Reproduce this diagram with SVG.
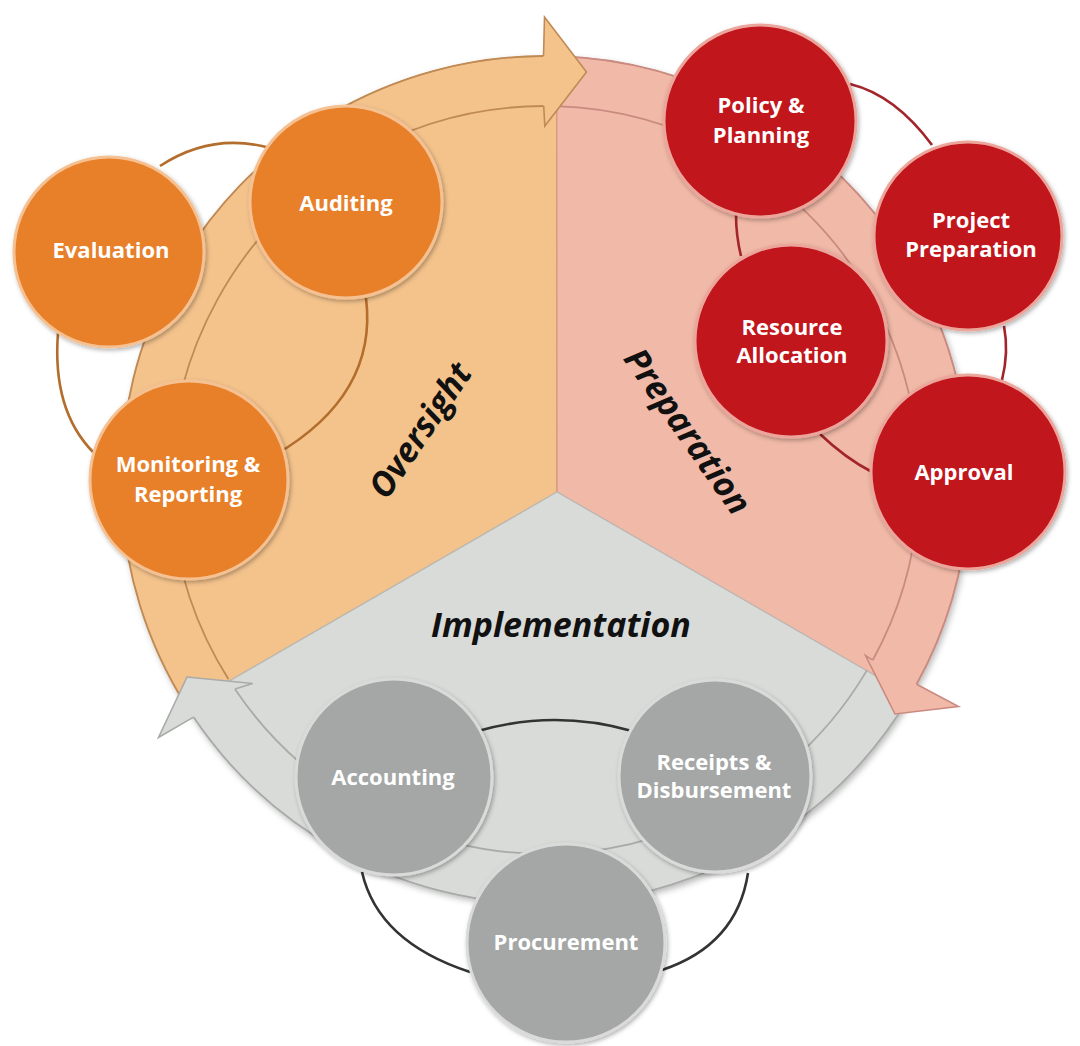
<svg xmlns="http://www.w3.org/2000/svg" width="1080" height="1046" viewBox="0 0 1080 1046">
<defs>
<filter id="sh" x="-10%" y="-10%" width="120%" height="120%">
<feDropShadow dx="2" dy="3" stdDeviation="3" flood-color="#000" flood-opacity="0.28"/>
</filter>
<filter id="nsh" x="-15%" y="-15%" width="130%" height="130%">
<feDropShadow dx="1.5" dy="2" stdDeviation="2" flood-color="#000" flood-opacity="0.3"/>
</filter>
<style>
.wo{fill:#f4c38c;stroke:#d9a066;stroke-width:1.2}
.wp{fill:#f1b9a7;stroke:#d79484;stroke-width:1.2}
.wi{fill:#d9dbd8;stroke:#b9bbb8;stroke-width:1.2}
.ao{fill:#f4c38c;stroke:#c08a55;stroke-width:1.6}
.ap{fill:#f1b9a7;stroke:#c98a80;stroke-width:1.6}
.ai{fill:#d9dbd8;stroke:#a9aba8;stroke-width:1.6}
.line-o{fill:none;stroke:#c08a55;stroke-width:1.8}
.line-p{fill:none;stroke:#c98a80;stroke-width:1.8}
.line-i{fill:none;stroke:#a9aba8;stroke-width:1.8}
.ro{fill:none;stroke:#b36d2c;stroke-width:2.6}
.rr{fill:none;stroke:#a2252b;stroke-width:2.6}
.rg{fill:none;stroke:#333333;stroke-width:2.6}
.no{fill:#e8802a;stroke:#f5c192;stroke-width:3;filter:url(#nsh)}
.nr{fill:#c1141f;stroke:#eba59b;stroke-width:3;filter:url(#nsh)}
.ng{fill:#a5a7a6;stroke:#dadada;stroke-width:3;filter:url(#nsh)}
.nt{font-family:"Open Sans","Liberation Sans",sans-serif;font-weight:bold;font-size:22px;fill:#ffffff;text-anchor:middle}
.st{font-family:"Open Sans","Liberation Sans",sans-serif;font-weight:bold;font-style:italic;font-size:34px;fill:#111111;text-anchor:middle}
</style>
</defs>
<rect width="1080" height="1046" fill="#ffffff"/>

<g id="sectors" filter="url(#sh)">
<path id="sector-oversight" class="wo" d="M557,492 L186.2,705.9 A424,424 0 0 1 556.8,56.2 Z"/>
<path id="sector-preparation" class="wp" d="M557,492 L556.8,56.2 A424,424 0 0 1 910.0,695.8 Z"/>
<path id="sector-implementation" class="wi" d="M557,492 L910.0,695.8 A424,424 0 0 1 186.2,705.9 Z"/>
</g>

<g id="connectors">
<path class="line-o" d="M228.5,679.3 A374,374 0 0 1 543.7,106.0"/>
<path class="line-o" d="M186.2,705.9 A424,424 0 0 1 543.5,56.0"/>
<path class="line-p" d="M555.4,106.1 A374,374 0 0 1 872.7,660.2"/>
<path class="line-p" d="M556.8,56.2 A424,424 0 0 1 916.6,684.3"/>
<path class="line-i" d="M866.9,670.4 A374,374 0 0 1 234.9,689.1"/>
<path class="line-i" d="M910.0,695.8 A424,424 0 0 1 193.5,717.1"/>
<path id="arrowhead-oversight" class="ao" d="M543.5,56.0 L544.5,17.0 L586.5,72.0 L544.8,126.0 L543.7,106.0"/>
<path id="arrowhead-preparation" class="ap" d="M916.6,684.3 L958.5,706.5 L895.0,714.0 L865.5,655.5 L872.7,660.2"/>
<path id="arrowhead-implementation" class="ai" d="M193.5,717.1 L158.5,737.5 L187.0,677.0 L252.7,683.5 L234.9,689.1"/>
<path class="ro" d="M160,166 Q212,132 270,148"/>
<path class="ro" d="M58,333 Q52,410 93,452"/>
<path class="ro" d="M366,298 Q378,395 275,455"/>
<path class="rr" d="M850,84 Q895,95 932,145"/>
<path class="rr" d="M1004,326 Q1009,352 1002,380"/>
<path class="rr" d="M872,472 Q845,458 820,434"/>
<path class="rr" d="M741,256 Q736,236 736,214"/>
<path class="rg" d="M478,731 Q555,709 632,731"/>
<path class="rg" d="M362,872 Q378,942 470,972"/>
<path class="rg" d="M748,873 Q737,945 662,970"/>
</g>

<g id="labels">
<text class="st" transform="translate(430,437) rotate(-56)">Oversight</text>
<text class="st" transform="translate(678,438) rotate(55)">Preparation</text>
<text class="st" x="561" y="637">Implementation</text>
</g>

<g id="node-evaluation"><circle class="no" cx="109" cy="252" r="95"/><text class="nt" x="111" y="258">Evaluation</text></g>
<g id="node-auditing"><circle class="no" cx="346" cy="202" r="96"/><text class="nt" x="346" y="211">Auditing</text></g>
<g id="node-monitoring"><circle class="no" cx="189" cy="480" r="99"/><text class="nt" x="188" y="472">Monitoring &amp;<tspan x="188" y="502">Reporting</tspan></text></g>

<g id="node-policy"><circle class="nr" cx="760" cy="121" r="96"/><text class="nt" x="761" y="113">Policy &amp;<tspan x="761" y="143">Planning</tspan></text></g>
<g id="node-project"><circle class="nr" cx="968" cy="236" r="94"/><text class="nt" x="971" y="228">Project<tspan x="971" y="257">Preparation</tspan></text></g>
<g id="node-resource"><circle class="nr" cx="791" cy="341" r="96"/><text class="nt" x="792" y="335">Resource<tspan x="792" y="363">Allocation</tspan></text></g>
<g id="node-approval"><circle class="nr" cx="968" cy="472" r="97"/><text class="nt" x="964" y="480">Approval</text></g>

<g id="node-accounting"><circle class="ng" cx="394" cy="777" r="98"/><text class="nt" x="393" y="785">Accounting</text></g>
<g id="node-receipts"><circle class="ng" cx="715" cy="776" r="96"/><text class="nt" x="714" y="770">Receipts &amp;<tspan x="714" y="798">Disbursement</tspan></text></g>
<g id="node-procurement"><circle class="ng" cx="566" cy="943" r="99"/><text class="nt" x="566" y="950">Procurement</text></g>
</svg>
